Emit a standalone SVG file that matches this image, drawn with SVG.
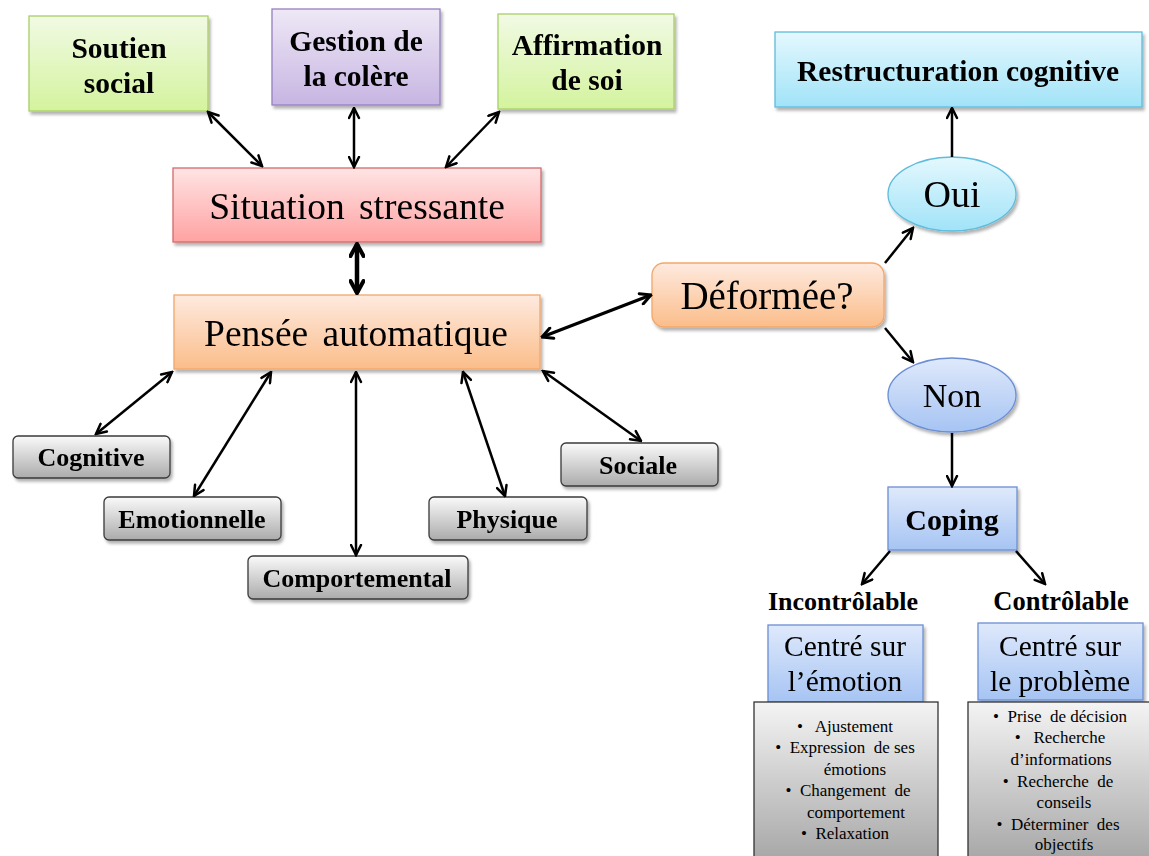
<svg xmlns="http://www.w3.org/2000/svg" width="1149" height="856" viewBox="0 0 1149 856">
<defs>
  <linearGradient id="gGreen" x1="0" y1="0" x2="0" y2="1"><stop offset="0" stop-color="#f1faE4"/><stop offset="1" stop-color="#d4f39e"/></linearGradient>
  <linearGradient id="gPurple" x1="0" y1="0" x2="0" y2="1"><stop offset="0" stop-color="#eee8f6"/><stop offset="1" stop-color="#c7b5e2"/></linearGradient>
  <linearGradient id="gPink" x1="0" y1="0" x2="0" y2="1"><stop offset="0" stop-color="#ffe4e4"/><stop offset="1" stop-color="#ffa2a2"/></linearGradient>
  <linearGradient id="gOrange" x1="0" y1="0" x2="0" y2="1"><stop offset="0" stop-color="#feeadf"/><stop offset="1" stop-color="#fbbd8a"/></linearGradient>
  <linearGradient id="gCyan" x1="0" y1="0" x2="0" y2="1"><stop offset="0" stop-color="#e4f8fe"/><stop offset="1" stop-color="#a1e3f8"/></linearGradient>
  <linearGradient id="gBlue" x1="0" y1="0" x2="0" y2="1"><stop offset="0" stop-color="#dfe9fb"/><stop offset="1" stop-color="#a6c4f3"/></linearGradient>
  <linearGradient id="gGray" x1="0" y1="0" x2="0" y2="1"><stop offset="0" stop-color="#fafafa"/><stop offset="1" stop-color="#ababab"/></linearGradient>
  <linearGradient id="gGray2" x1="0" y1="0" x2="0" y2="1"><stop offset="0" stop-color="#f4f4f4"/><stop offset="1" stop-color="#a6a6a6"/></linearGradient>
  <filter id="sh" x="-10%" y="-10%" width="125%" height="130%">
    <feDropShadow dx="2" dy="3" stdDeviation="1.5" flood-color="#000" flood-opacity="0.3"/>
  </filter>
  <marker id="ah" viewBox="0 0 13 13" refX="11.5" refY="6.5" markerWidth="13" markerHeight="13" markerUnits="userSpaceOnUse" orient="auto-start-reverse">
    <path d="M1.5,1.5 L11.5,6.5 L1.5,11.5" fill="none" stroke="#000" stroke-width="2.5" stroke-linecap="round" stroke-linejoin="miter"/>
  </marker>
  <marker id="ahm" viewBox="0 0 14 14" refX="12.5" refY="7" markerWidth="14" markerHeight="14" markerUnits="userSpaceOnUse" orient="auto-start-reverse">
    <path d="M2,1.5 L12.5,7 L2,12.5" fill="none" stroke="#000" stroke-width="3" stroke-linecap="round"/>
  </marker>
  <marker id="ahb" viewBox="0 0 16 16" refX="14" refY="8" markerWidth="16" markerHeight="16" markerUnits="userSpaceOnUse" orient="auto-start-reverse">
    <path d="M2,1.5 L14,8 L2,14.5" fill="none" stroke="#000" stroke-width="4" stroke-linecap="round"/>
  </marker>
</defs>
<style>
  .serif { font-family: "Liberation Serif", "Times New Roman", serif; fill: #000; }
  .b { font-weight: bold; }
  .big { font-size: 37.5px; }
  .top { font-size: 29.5px; font-weight: bold; }
  .small { font-size: 26px; font-weight: bold; }
  .mid { font-size: 29.5px; }
  .list { font-size: 17px; white-space: pre; }
  .c { text-anchor: middle; }
  .conn line { stroke: #000; stroke-width: 2.5; fill: none; }
</style>

<g id="soutien" filter="url(#sh)">
  <rect x="29" y="16" width="179" height="95" fill="url(#gGreen)" stroke="#a9d068" stroke-width="1.3"/>
  <text class="serif top c" x="119" y="58">Soutien</text>
  <text class="serif top c" x="119" y="93">social</text>
</g>
<g id="gestion" filter="url(#sh)">
  <rect x="272" y="9" width="168" height="96" fill="url(#gPurple)" stroke="#9680c0" stroke-width="1.3"/>
  <text class="serif top c" x="356" y="51">Gestion de</text>
  <text class="serif top c" x="356" y="86">la colère</text>
</g>
<g id="affirmation" filter="url(#sh)">
  <rect x="498" y="14" width="176" height="95" fill="url(#gGreen)" stroke="#a9d068" stroke-width="1.3"/>
  <text class="serif top c" x="587" y="55">Affirmation</text>
  <text class="serif top c" x="587" y="90">de soi</text>
</g>
<g id="situation" filter="url(#sh)">
  <rect x="173" y="168" width="368" height="74" fill="url(#gPink)" stroke="#d46a6a" stroke-width="1.3"/>
  <text class="serif big c" x="357" y="219" word-spacing="5">Situation stressante</text>
</g>
<g id="pensee" filter="url(#sh)">
  <rect x="174" y="295" width="366" height="74" fill="url(#gOrange)" stroke="#f3a66a" stroke-width="1.3"/>
  <text class="serif big c" x="356" y="346" word-spacing="5">Pensée automatique</text>
</g>
<g id="deformee" filter="url(#sh)">
  <rect x="652" y="263" width="232" height="64" rx="12" fill="url(#gOrange)" stroke="#f3a66a" stroke-width="1.3"/>
  <text class="serif c" style="font-size:39px" x="767" y="309">Déformée?</text>
</g>
<g id="restructuration" filter="url(#sh)">
  <rect x="775" y="32" width="367" height="75" fill="url(#gCyan)" stroke="#5fbcdc" stroke-width="1.3"/>
  <text class="serif top c" x="958" y="81">Restructuration cognitive</text>
</g>
<g id="oui" filter="url(#sh)">
  <ellipse cx="952" cy="194" rx="64" ry="37" fill="url(#gCyan)" stroke="#5fbcdc" stroke-width="1.3"/>
  <text class="serif c" style="font-size:38px" x="952" y="207">Oui</text>
</g>
<g id="non" filter="url(#sh)">
  <ellipse cx="952" cy="395" rx="64" ry="37" fill="url(#gBlue)" stroke="#6a8fd4" stroke-width="1.3"/>
  <text class="serif c" style="font-size:34px" x="952" y="407">Non</text>
</g>
<g id="coping" filter="url(#sh)">
  <rect x="888" y="487" width="129" height="63" fill="url(#gBlue)" stroke="#6a8fd4" stroke-width="1.3"/>
  <text class="serif c b" style="font-size:30px" x="952" y="530">Coping</text>
</g>
<g id="incontrolable">
  <text class="serif c b" style="font-size:26px" x="843" y="610">Incontrôlable</text>
</g>
<g id="controlable">
  <text class="serif c b" style="font-size:26.5px" x="1061" y="610">Contrôlable</text>
</g>
<g id="centre-emotion" filter="url(#sh)">
  <rect x="768" y="625" width="155" height="77" fill="url(#gBlue)" stroke="#6a8fd4" stroke-width="1.3"/>
  <text class="serif mid c" x="845" y="656">Centré sur</text>
  <text class="serif mid c" x="845" y="691">l’émotion</text>
</g>
<g id="centre-probleme" filter="url(#sh)">
  <rect x="978" y="623" width="165" height="77" fill="url(#gBlue)" stroke="#6a8fd4" stroke-width="1.3"/>
  <text class="serif mid c" x="1060" y="656">Centré sur</text>
  <text class="serif mid c" x="1060" y="691">le problème</text>
</g>
<g id="liste-emotion">
  <rect x="754" y="702" width="184" height="160" fill="url(#gGray2)" stroke="#333" stroke-width="1.3"/>
  <text class="serif list c" x="845" y="732">•   Ajustement</text>
  <text class="serif list c" x="845" y="753">•  Expression  de ses</text>
  <text class="serif list c" x="855" y="775">émotions</text>
  <text class="serif list c" x="848" y="796">•  Changement  de</text>
  <text class="serif list c" x="856" y="818">comportement</text>
  <text class="serif list c" x="845" y="839">•  Relaxation</text>
</g>
<g id="liste-probleme">
  <rect x="968" y="702" width="190" height="160" fill="url(#gGray2)" stroke="#333" stroke-width="1.3"/>
  <text class="serif list c" x="1060" y="722">•  Prise  de décision</text>
  <text class="serif list c" x="1060" y="743">•   Recherche</text>
  <text class="serif list c" x="1061" y="765">d’informations</text>
  <text class="serif list c" x="1058" y="787">•  Recherche  de</text>
  <text class="serif list c" x="1064" y="808">conseils</text>
  <text class="serif list c" x="1058" y="830">•  Déterminer  des</text>
  <text class="serif list c" x="1064" y="850">objectifs</text>
</g>
<g id="cognitive" filter="url(#sh)">
  <rect x="13" y="436" width="157" height="42" rx="5" fill="url(#gGray)" stroke="#3a3a3a" stroke-width="1.3"/>
  <text class="serif small c" x="91" y="466">Cognitive</text>
</g>
<g id="emotionnelle" filter="url(#sh)">
  <rect x="104" y="497" width="177" height="43" rx="5" fill="url(#gGray)" stroke="#3a3a3a" stroke-width="1.3"/>
  <text class="serif small c" x="192" y="528">Emotionnelle</text>
</g>
<g id="comportemental" filter="url(#sh)">
  <rect x="248" y="556" width="220" height="43" rx="5" fill="url(#gGray)" stroke="#3a3a3a" stroke-width="1.3"/>
  <text class="serif small c" x="357" y="587">Comportemental</text>
</g>
<g id="physique" filter="url(#sh)">
  <rect x="429" y="497" width="158" height="43" rx="5" fill="url(#gGray)" stroke="#3a3a3a" stroke-width="1.3"/>
  <text class="serif small c" x="507" y="528">Physique</text>
</g>
<g id="sociale" filter="url(#sh)">
  <rect x="561" y="443" width="157" height="43" rx="5" fill="url(#gGray)" stroke="#3a3a3a" stroke-width="1.3"/>
  <text class="serif small c" x="638" y="474">Sociale</text>
</g>

<g id="connectors" class="conn">
  <line x1="208" y1="112" x2="262" y2="166" marker-start="url(#ah)" marker-end="url(#ah)"/>
  <line x1="354" y1="108" x2="354" y2="167" marker-start="url(#ah)" marker-end="url(#ah)"/>
  <line x1="499" y1="112" x2="446" y2="167" marker-start="url(#ah)" marker-end="url(#ah)"/>
  <line x1="357" y1="244" x2="357" y2="293" style="stroke-width:4.5" marker-start="url(#ahb)" marker-end="url(#ahb)"/>
  <line x1="542" y1="337" x2="651" y2="295" style="stroke-width:3.2" marker-start="url(#ahm)" marker-end="url(#ahm)"/>
  <line x1="172" y1="372" x2="96" y2="434" marker-start="url(#ah)" marker-end="url(#ah)"/>
  <line x1="271" y1="372" x2="194" y2="496" marker-start="url(#ah)" marker-end="url(#ah)"/>
  <line x1="356" y1="372" x2="356" y2="555" marker-start="url(#ah)" marker-end="url(#ah)"/>
  <line x1="463" y1="372" x2="505" y2="496" marker-start="url(#ah)" marker-end="url(#ah)"/>
  <line x1="543" y1="371" x2="641" y2="441" marker-start="url(#ah)" marker-end="url(#ah)"/>
  <line x1="885" y1="263" x2="913" y2="228" marker-end="url(#ah)"/>
  <line x1="885" y1="328" x2="913" y2="362" marker-end="url(#ah)"/>
  <line x1="952" y1="157" x2="952" y2="108" marker-end="url(#ah)"/>
  <line x1="952" y1="433" x2="952" y2="486" marker-end="url(#ah)"/>
  <line x1="890" y1="551" x2="862" y2="584" marker-end="url(#ah)"/>
  <line x1="1016" y1="551" x2="1045" y2="584" marker-end="url(#ah)"/>
</g>
</svg>
